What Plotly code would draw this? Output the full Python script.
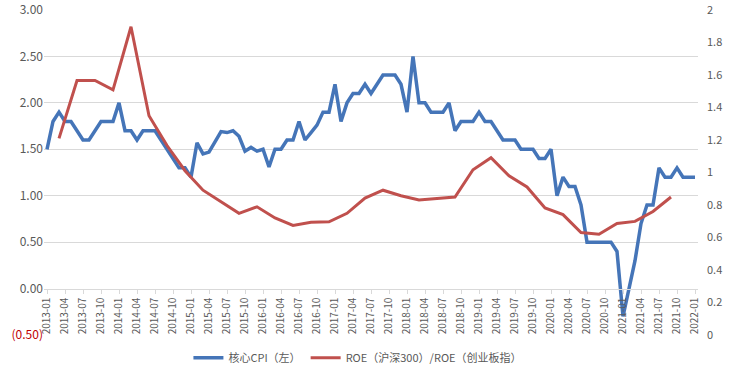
import plotly.graph_objects as go

# Monthly categories 2013-01 .. 2022-01
months = [f"{y}-{m:02d}" for y in range(2013, 2023) for m in range(1, 13)][:109]
tick_months = months[::3]

# 核心CPI（左）, monthly, %
core_cpi = [
    1.5, 1.8, 1.9, 1.8, 1.8, 1.7, 1.6, 1.6, 1.7, 1.8, 1.8, 1.8,   # 2013
    2.0, 1.7, 1.7, 1.6, 1.7, 1.7, 1.7, 1.6, 1.5, 1.4, 1.3, 1.3,   # 2014
    1.2, 1.57, 1.45, 1.47, 1.58, 1.69, 1.68, 1.7, 1.64, 1.48, 1.52, 1.48,  # 2015
    1.5, 1.31, 1.5, 1.5, 1.6, 1.6, 1.8, 1.6, 1.68, 1.76, 1.9, 1.9,  # 2016
    2.2, 1.8, 2.0, 2.1, 2.1, 2.2, 2.1, 2.2, 2.3, 2.3, 2.3, 2.2,   # 2017
    1.9, 2.5, 2.0, 2.0, 1.9, 1.9, 1.9, 2.0, 1.7, 1.8, 1.8, 1.8,   # 2018
    1.9, 1.8, 1.8, 1.7, 1.6, 1.6, 1.6, 1.5, 1.5, 1.5, 1.4, 1.4,   # 2019
    1.5, 1.0, 1.2, 1.1, 1.1, 0.9, 0.5, 0.5, 0.5, 0.5, 0.5, 0.4,   # 2020
    -0.3, 0.0, 0.3, 0.7, 0.9, 0.9, 1.3, 1.2, 1.2, 1.3, 1.2, 1.2,  # 2021
    1.2,                                                           # 2022-01
]

# ROE（沪深300）/ROE（创业板指）, quarterly, right axis
roe_months = [
    "2013-03", "2013-06", "2013-09", "2013-12",
    "2014-03", "2014-06", "2014-09", "2014-12",
    "2015-03", "2015-06", "2015-09", "2015-12",
    "2016-03", "2016-06", "2016-09", "2016-12",
    "2017-03", "2017-06", "2017-09", "2017-12",
    "2018-03", "2018-06", "2018-09", "2018-12",
    "2019-03", "2019-06", "2019-09", "2019-12",
    "2020-03", "2020-06", "2020-09", "2020-12",
    "2021-03", "2021-06", "2021-09",
]
roe_ratio = [
    1.21, 1.566, 1.566, 1.509,
    1.897, 1.349, 1.166, 1.011,
    0.891, 0.82, 0.749, 0.789,
    0.72, 0.674, 0.694, 0.697,
    0.749, 0.843, 0.891, 0.857,
    0.831, 0.84, 0.849, 1.017,
    1.091, 0.98, 0.911, 0.782,
    0.741, 0.631, 0.62, 0.686,
    0.699, 0.76, 0.849,
]

left_ticks = [-0.5, 0, 0.5, 1.0, 1.5, 2.0, 2.5, 3.0]
left_ticktext = ['<span style="color:#C00000">(0.50)</span>', "0.00", "0.50", "1.00",
                 "1.50", "2.00", "2.50", "3.00"]
grid_ticks = [0.5, 1.0, 1.5, 2.0, 2.5, 3.0]
right_ticks = [0, 0.2, 0.4, 0.6, 0.8, 1.0, 1.2, 1.4, 1.6, 1.8, 2.0]
right_ticktext = ["0", "0.2", "0.4", "0.6", "0.8", "1", "1.2", "1.4", "1.6", "1.8", "2"]

BLUE = "#4575B8"
RED = "#C0504D"
GREY = "#595959"
FONT = "Noto Sans CJK SC"

fig = go.Figure()
# invisible trace to carry the grid-only axis
fig.add_trace(go.Scatter(x=months[:1], y=[None], yaxis="y3", showlegend=False,
                         hoverinfo="skip"))
fig.add_trace(go.Scatter(x=months, y=core_cpi, name="核心CPI（左）", mode="lines",
                         line=dict(color=BLUE, width=3.5)))
fig.add_trace(go.Scatter(x=roe_months, y=roe_ratio, name="ROE（沪深300）/ROE（创业板指）",
                         mode="lines", yaxis="y2", line=dict(color=RED, width=3)))

fig.update_layout(
    width=732, height=375,
    margin=dict(l=44, r=34, t=10, b=40, autoexpand=False),
    paper_bgcolor="white", plot_bgcolor="white",
    font=dict(family=FONT, color=GREY, size=11),
    xaxis=dict(
        type="category", categoryorder="array", categoryarray=months,
        range=[-0.5, 108.5], automargin=False,
        tickmode="array", tickvals=tick_months, ticktext=tick_months,
        tickangle=-90, tickfont=dict(size=10, color=GREY),
        showgrid=False, showline=True, linecolor="#D9D9D9", linewidth=1,
        ticks="outside", ticklen=4, tickcolor="#D9D9D9",
        anchor="free", position=0.5 / 3.5,
    ),
    yaxis=dict(
        range=[-0.5, 3.0], tickmode="array", tickvals=left_ticks, ticktext=left_ticktext,
        showgrid=False, zeroline=False, showline=False, automargin=False,
        tickfont=dict(size=12, color=GREY),
    ),
    yaxis3=dict(
        range=[-0.5, 3.0], overlaying="y", tickmode="array", tickvals=grid_ticks,
        showgrid=True, gridcolor="#D9D9D9", gridwidth=1, showticklabels=False,
        zeroline=False, showline=False, automargin=False,
    ),
    yaxis2=dict(
        range=[0, 2], overlaying="y", side="right", tickmode="array",
        tickvals=right_ticks, ticktext=right_ticktext, automargin=False,
        showgrid=False, zeroline=False, showline=False,
        tickfont=dict(size=11, color=GREY), ticklabelstandoff=8,
    ),
    legend=dict(
        orientation="h", x=0.48, xanchor="center", y=-0.07, yanchor="middle",
        font=dict(size=11, color=GREY, family=FONT), bgcolor="rgba(0,0,0,0)",
        traceorder="normal", itemwidth=30,
    ),
    showlegend=True,
)

fig.write_html(
    "out.html",
    config={"displayModeBar": False},
    post_script="document.body.style.margin='0';document.body.style.overflow='hidden';",
)
